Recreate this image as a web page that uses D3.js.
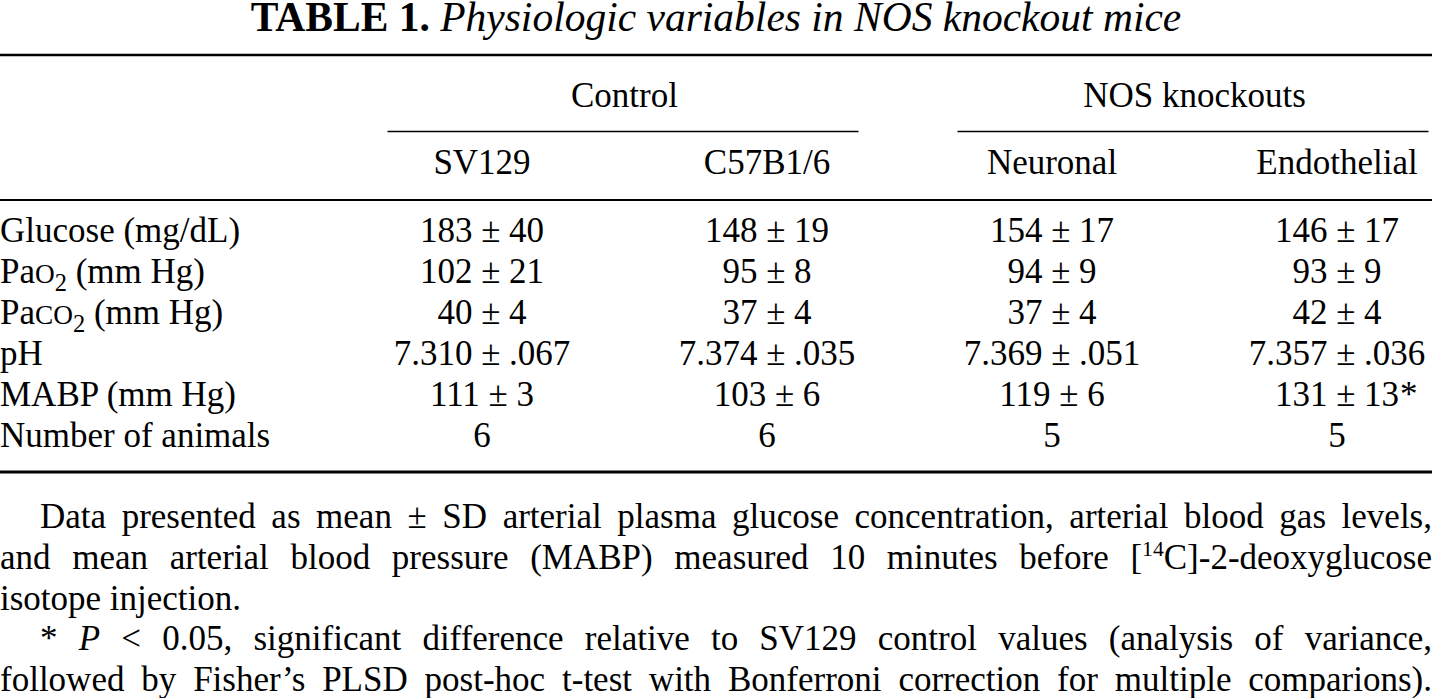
<!DOCTYPE html>
<html>
<head>
<meta charset="utf-8">
<script src="https://cdn.jsdelivr.net/npm/d3@7"></script>
<style>
  body { margin: 0; background: #fff; }
  svg { display: block; font-family: "Liberation Serif", "Times New Roman", serif; }
</style>
</head>
<body>
<svg id="chart" width="1432" height="698"></svg>
<script>
// table content
const groups = ["Control", "NOS knockouts"]
const strains = ["SV129", "C57B1/6", "Neuronal", "Endothelial"]
const strainGroup = [0, 0, 1, 1]
// variable labels: [base, small-cap part, subscript, rest]
const variables = [
  ["Glucose (mg/dL)", "", "", ""],
  ["Pa", "O", "2", " (mm Hg)"],
  ["Pa", "CO", "2", " (mm Hg)"],
  ["pH", "", "", ""],
  ["MABP (mm Hg)", "", "", ""],
  ["Number of animals", "", "", ""]
]
const glucose = ["183 ± 40", "148 ± 19", "154 ± 17", "146 ± 17"]
const paO2 = ["102 ± 21", "95 ± 8", "94 ± 9", "93 ± 9"]
const paCO2 = ["40 ± 4", "37 ± 4", "37 ± 4", "42 ± 4"]
const pH = ["7.310 ± .067", "7.374 ± .035", "7.369 ± .051", "7.357 ± .036"]
const mabp = ["111 ± 3", "103 ± 6", "119 ± 6", "131 ± 13"]
const animals = ["6", "6", "5", "5"]
const rows = [glucose, paO2, paCO2, pH, mabp, animals]
// significance flags, column indexes per row
const significant = [[], [], [], [], [3], []]

const svg = d3.select("#chart")
const fs = 35

const x = d3.scalePoint().domain(strains).range([482, 1337])
const y = d3.scalePoint().domain(d3.range(rows.length)).range([242, 447])

// title
const title = svg.append("text")
  .attr("x", 716).attr("y", 31)
  .attr("text-anchor", "middle")
  .style("font-size", "41.5px")
title.append("tspan").style("font-weight", "bold").text("TABLE 1.")
title.append("tspan").style("font-style", "italic").text(" Physiologic variables in NOS knockout mice")

// rules
function rule(x1, x2, yy, w) {
  svg.append("line")
    .attr("x1", x1).attr("x2", x2)
    .attr("y1", yy).attr("y2", yy)
    .attr("stroke", "#000").attr("stroke-width", w)
}
rule(0, 1432, 55, 2.5)
rule(0, 1432, 200, 2)
rule(0, 1432, 472, 3)

// group headers with spanning rules
const half = (x("C57B1/6") - x("SV129")) / 2
groups.forEach((g, i) => {
  const cols = strains.filter((s, j) => strainGroup[j] === i)
  const x0 = x(cols[0]), x1 = x(cols[cols.length - 1])
  svg.append("text")
    .attr("x", (x0 + x1) / 2).attr("y", 107)
    .attr("text-anchor", "middle")
    .style("font-size", `${fs}px`)
    .text(g)
  rule(x0 - half + 48, x1 + half - 51, 131.5, 1.5)
})

// strain headers
svg.selectAll(".strain")
  .data(strains)
  .enter().append("text")
  .attr("class", "strain")
  .attr("x", d => x(d)).attr("y", 174)
  .attr("text-anchor", "middle")
  .style("font-size", `${fs}px`)
  .text(d => d)

// row labels
const labels = svg.selectAll(".label")
  .data(variables)
  .enter().append("text")
  .attr("class", "label")
  .attr("x", 0).attr("y", (d, i) => y(i))
  .style("font-size", `${fs}px`)
labels.append("tspan").text(d => d[0])
labels.filter(d => d[1]).append("tspan").style("font-size", `${fs * 0.78}px`).text(d => d[1])
labels.filter(d => d[2]).append("tspan").attr("dy", 8).style("font-size", `${fs * 0.7}px`).text(d => d[2])
labels.filter(d => d[3]).append("tspan").attr("dy", -8).text(d => d[3])

// cell values
rows.forEach((r, i) => {
  svg.selectAll(null)
    .data(r)
    .enter().append("text")
    .attr("x", (d, j) => x(strains[j])).attr("y", y(i))
    .attr("text-anchor", "middle")
    .style("font-size", `${fs}px`)
    .text(d => d)
    .each(function(d, j) {
      if (significant[i].includes(j)) {
        const w = this.getComputedTextLength()
        svg.append("text")
          .attr("x", x(strains[j]) + w / 2 + 1).attr("y", y(i))
          .style("font-size", `${fs}px`)
          .text("*")
      }
    })
})

// footnotes, justified lines
const notes = [
  { indent: 40, just: true, parts: [["Data presented as mean ± SD arterial plasma glucose concentration, arterial blood gas levels,"]] },
  { indent: 0, just: true, parts: [["and mean arterial blood pressure (MABP) measured 10 minutes before ["], ["14", "sup"], ["C]-2-deoxyglucose"]] },
  { indent: 0, just: false, parts: [["isotope injection."]] },
  { indent: 40, just: true, parts: [["* "], ["P", "it"], [" < 0.05, significant difference relative to SV129 control values (analysis of variance,"]] },
  { indent: 0, just: true, parts: [["followed by Fisher’s PLSD post-hoc t-test with Bonferroni correction for multiple comparions)."]] }
]
const noteY = d3.scalePoint().domain(d3.range(notes.length)).range([528, 691])

notes.forEach((n, i) => {
  const t = svg.append("text")
    .attr("x", n.indent).attr("y", noteY(i))
    .style("font-size", `${fs}px`)
  n.parts.forEach((p, k) => {
    const s = t.append("tspan").text(p[0])
    if (p[1] === "it") s.style("font-style", "italic")
    if (p[1] === "sup") s.attr("dy", -13).style("font-size", `${fs * 0.62}px`)
    if (k > 0 && n.parts[k - 1][1] === "sup") s.attr("dy", 13)
  })
  if (n.just) {
    const natural = t.node().getComputedTextLength()
    const spaces = n.parts.map(p => p[0]).join("").split(" ").length - 1
    t.style("word-spacing", `${(1432 - n.indent - natural) / spaces}px`)
  }
})
</script>
</body>
</html>
